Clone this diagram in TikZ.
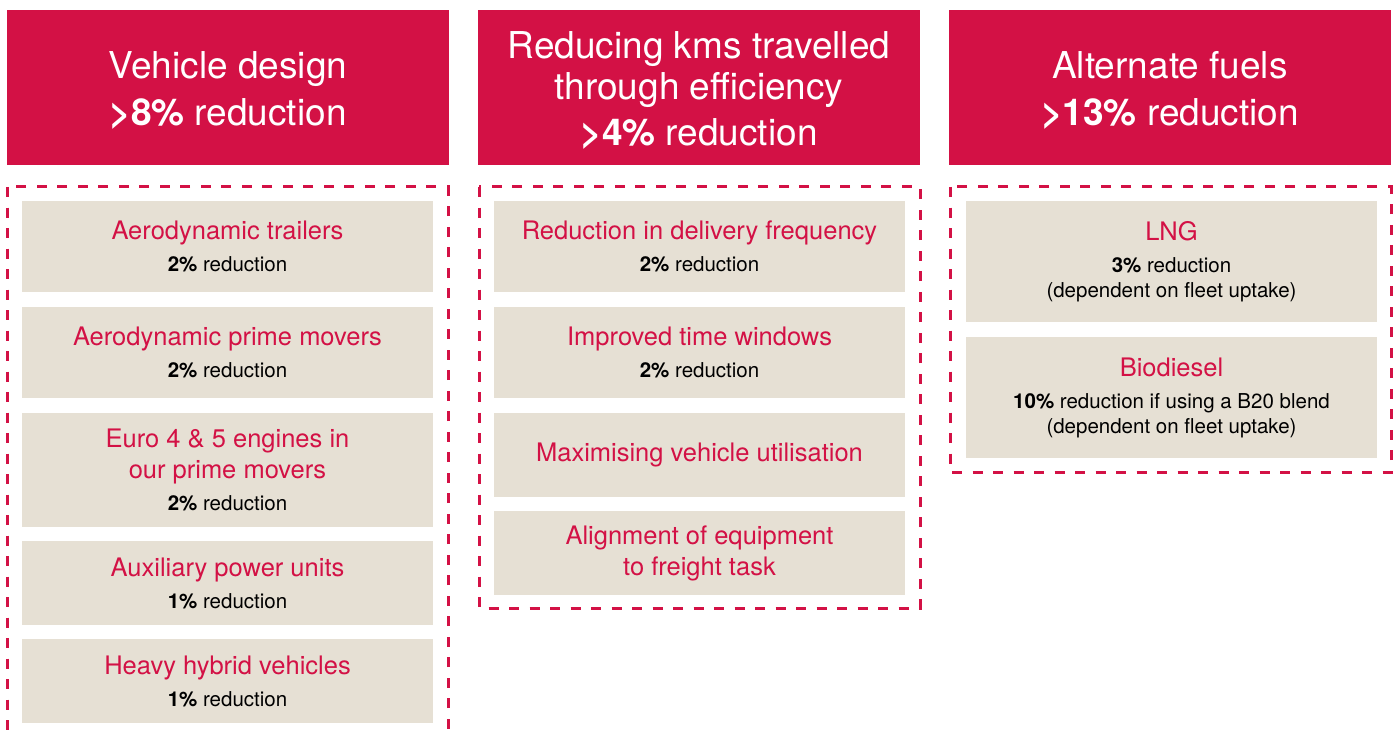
\documentclass[tikz,border=0pt]{standalone}
\usepackage{fontspec}
\setmainfont{TeX Gyre Heros}
\definecolor{kred}{HTML}{D31145}
\definecolor{kbeige}{HTML}{E6E0D4}
\tikzset{
  headbox/.style={fill=kred, text=white, minimum width=442pt, minimum height=155pt,
    inner sep=0pt, align=center, font=\fontsize{37}{41}\selectfont},
  itembox/.style={fill=kbeige, minimum width=411pt, minimum height=#1,
    inner sep=0pt, align=center, font=\fontsize{20.5}{25}\selectfont},
  frame/.style={draw=kred, line width=3pt, dash pattern=on 10pt off 10.5pt},
}
\newcommand{\ttl}[1]{{\color{kred}\fontsize{25.5}{31}\selectfont #1}}
\begin{document}
\begin{tikzpicture}[x=1pt, y=-1pt]
    \clip (0,0) rectangle (1393,733);
    \fill[white] (0,0) rectangle (1393,733);

    % Header boxes
    \node at (228, 87.5) (H1) [headbox] {};
    \node at (228, 90.5) (H1t) [headbox, fill=none] {Vehicle design\\[6pt] \textbf{>8\%} reduction};
    \node at (699, 87.5) (H2) [headbox] {};
    \node at (699, 90.5) (H2t) [headbox, fill=none] {Reducing kms travelled\\ through efficiency\\[5pt] \textbf{>4\%} reduction};
    \node at (1170, 87.5) (H3) [headbox] {};
    \node at (1170, 90.5) (H3t) [headbox, fill=none] {Alternate fuels\\[6pt] \textbf{>13\%} reduction};

    % Dashed frames
    \draw[frame] (7.5, 187) rectangle (448, 750);
    \draw[frame] (479, 187) rectangle (920, 608);
    \draw[frame] (950, 187) rectangle (1391, 472);

    % Vehicle design items
    \node at (227.5, 246.5) (V1) [itembox=91pt] {\ttl{Aerodynamic trailers}\\[7pt] \textbf{2\%} reduction};
    \node at (227.5, 352.5) (V2) [itembox=91pt] {\ttl{Aerodynamic prime movers}\\[7pt] \textbf{2\%} reduction};
    \node at (227.5, 470) (V3) [itembox=114pt] {\ttl{Euro 4 \& 5 engines in}\\[6pt] \ttl{our prime movers}\\[7pt] \textbf{2\%} reduction};
    \node at (227.5, 583) (V4) [itembox=84pt] {\ttl{Auxiliary power units}\\[7pt] \textbf{1\%} reduction};
    \node at (227.5, 681) (V5) [itembox=84pt] {\ttl{Heavy hybrid vehicles}\\[7pt] \textbf{1\%} reduction};

    % Efficiency items
    \node at (699.5, 246.5) (E1) [itembox=91pt] {\ttl{Reduction in delivery frequency}\\[7pt] \textbf{2\%} reduction};
    \node at (699.5, 352.5) (E2) [itembox=91pt] {\ttl{Improved time windows}\\[7pt] \textbf{2\%} reduction};
    \node at (699.5, 455) (E3) [itembox=84pt] {\ttl{Maximising vehicle utilisation}};
    \node at (699.5, 553) (E4) [itembox=84pt] {\ttl{Alignment of equipment}\\[6pt] \ttl{to freight task}};

    % Alternate fuels items
    \node at (1171.5, 261.5) (F1) [itembox=121pt] {\ttl{LNG}\\[7pt] \textbf{3\%} reduction\\ (dependent on fleet uptake)};
    \node at (1171.5, 397.5) (F2) [itembox=121pt] {\ttl{Biodiesel}\\[7pt] \textbf{10\%} reduction if using a B20 blend\\ (dependent on fleet uptake)};
\end{tikzpicture}
\end{document}
